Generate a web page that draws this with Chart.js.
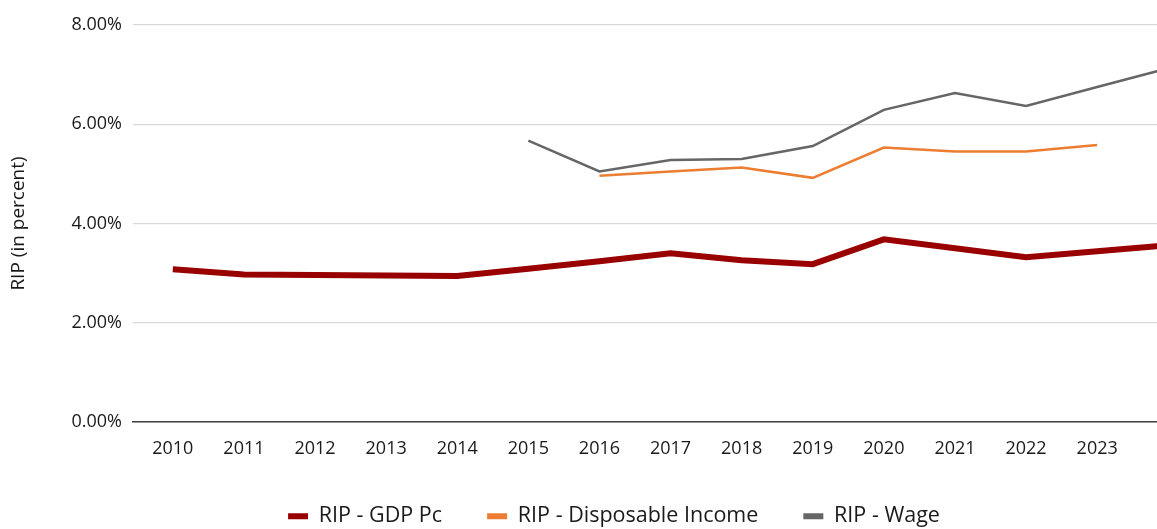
<!DOCTYPE html>
<html>
<head>
<meta charset="utf-8">
<script src="https://cdn.jsdelivr.net/npm/chart.js@4"></script>
<style>
    html, body { margin: 0; padding: 0; overflow: hidden; background: #fff; }
    #wrap { position: absolute; left: 0; top: 0; }
</style>
</head>
<body>
<div id="wrap"><canvas id="ripChart" width="1228" height="545"></canvas></div>
<script>
// ==================== DATA ====================
const years = [2010, 2011, 2012, 2013, 2014, 2015, 2016, 2017, 2018, 2019, 2020, 2021, 2022, 2023, 2024];
const gdpPc = [3.08, 2.97, 2.96, 2.95, 2.94, 3.09, 3.24, 3.40, 3.26, 3.18, 3.68, 3.50, 3.32, 3.44, 3.56];
const disposableIncome = [null, null, null, null, null, null, 4.96, 5.05, 5.13, 4.92, 5.53, 5.45, 5.45, 5.58, null];
const wage = [null, null, null, null, null, 5.67, 5.05, 5.28, 5.30, 5.56, 6.29, 6.63, 6.37, 6.75, 7.13];
const lastLabelYear = 2023;
const yTicks = [0, 2, 4, 6, 8];

// Theme colors
const colors = {
    gdp: '#990000',
    income: '#ED7D31',
    wage: '#666666',
    grid: '#d9d9d9',
    axis: '#404040',
    text: '#1a1a1a'
};

Chart.defaults.font.family = "'Open Sans', sans-serif";
Chart.defaults.color = colors.text;

const toPoints = arr => years.map((yr, i) => ({ x: yr, y: arr[i] }));

new Chart(document.getElementById('ripChart'), {
    type: 'line',
    data: {
        datasets: [
            {
                label: 'RIP - GDP Pc',
                data: toPoints(gdpPc),
                borderColor: colors.gdp,
                backgroundColor: colors.gdp,
                borderWidth: 6,
                pointRadius: 0,
                tension: 0
            },
            {
                label: 'RIP - Disposable Income',
                data: toPoints(disposableIncome),
                borderColor: colors.income,
                backgroundColor: colors.income,
                borderWidth: 2.5,
                pointRadius: 0,
                tension: 0
            },
            {
                label: 'RIP - Wage',
                data: toPoints(wage),
                borderColor: colors.wage,
                backgroundColor: colors.wage,
                borderWidth: 2.5,
                pointRadius: 0,
                tension: 0
            }
        ]
    },
    options: {
        responsive: false,
        animation: false,
        layout: { padding: { top: 25, left: 0, right: 0, bottom: 8 } },
        plugins: {
            tooltip: { enabled: false },
            legend: {
                position: 'bottom',
                labels: {
                    boxWidth: 20,
                    boxHeight: 6,
                    padding: 45,
                    font: { size: 21.5 },
                    generateLabels: chart => Chart.defaults.plugins.legend.labels.generateLabels(chart)
                        .map(l => ({ ...l, lineWidth: 0 }))
                }
            }
        },
        scales: {
            x: {
                type: 'linear',
                min: 2009.44,
                max: 2024.84,
                grid: { display: false },
                border: { display: true, color: colors.axis, width: 1.5 },
                afterFit: scale => { scale.height = 38.5; },
                ticks: {
                    stepSize: 1,
                    includeBounds: false,
                    autoSkip: false,
                    maxRotation: 0,
                    padding: 8,
                    font: { size: 18 },
                    callback: v => (Number.isInteger(v) && v <= lastLabelYear) ? String(v) : ''
                }
            },
            y: {
                min: 0,
                max: 8,
                afterFit: scale => { scale.width = 133; },
                afterBuildTicks: scale => { scale.ticks = yTicks.map(v => ({ value: v })); },
                grid: { color: colors.grid, lineWidth: 1.2, drawTicks: false },
                border: { display: false },
                title: {
                    display: true,
                    text: 'RIP (in percent)',
                    font: { size: 19 },
                    padding: { top: 7, bottom: 0 }
                },
                ticks: {
                    padding: 11,
                    font: { size: 18 },
                    callback: v => v.toFixed(2) + '%'
                }
            }
        }
    }
});
</script>
</body>
</html>
